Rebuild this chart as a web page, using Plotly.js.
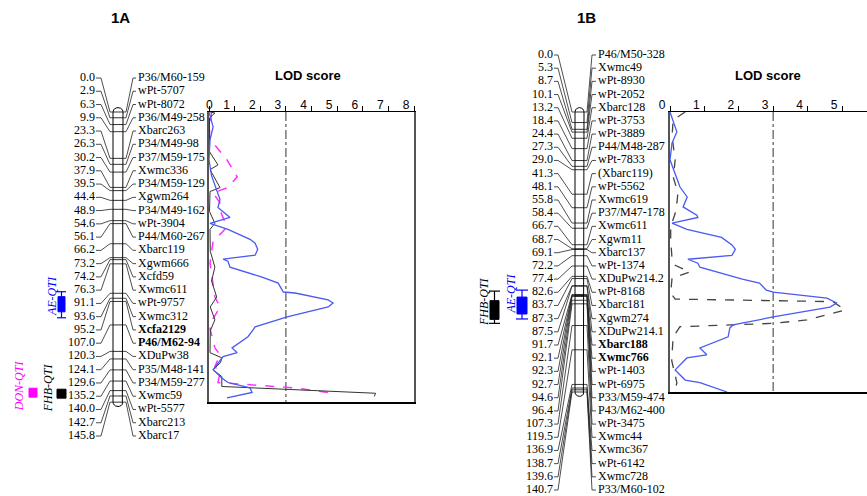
<!DOCTYPE html>
<html>
<head>
<meta charset="utf-8">
<script src="https://cdn.plot.ly/plotly-3.0.1.min.js"></script>
<style>html,body{margin:0;padding:0;background:#fff;}#chart{width:867px;height:496px;}</style>
</head>
<body>
<div id="chart"></div>
<script>
// ---------------- DATA ----------------
const CM_A = [0.0,2.9,6.3,9.9,23.3,26.3,30.2,37.9,39.5,44.4,48.9,54.6,56.1,66.2,73.2,74.2,76.3,91.1,93.6,95.2,107.0,120.3,124.1,129.6,135.2,140.0,142.7,145.8];
const MARKERS_A = ['P36/M60-159','wPt-5707','wPt-8072','P36/M49-258','Xbarc263','P34/M49-98','P37/M59-175','Xwmc336','P34/M59-129','Xgwm264','P34/M49-162','wPt-3904','P44/M60-267','Xbarc119','Xgwm666','Xcfd59','Xwmc611','wPt-9757','Xwmc312','Xcfa2129','P46/M62-94','XDuPw38','P35/M48-141','P34/M59-277','Xwmc59','wPt-5577','Xbarc213','Xbarc17'];
const BOLD_A = ['Xcfa2129','P46/M62-94'];

const CM_B = [0.0,5.3,8.7,10.1,13.2,18.4,24.4,27.3,29.0,41.3,48.1,55.8,58.4,66.7,68.7,69.1,72.2,77.4,82.6,83.7,87.3,87.5,91.7,92.1,92.3,92.7,94.6,96.4,107.3,119.5,136.9,138.7,139.6,140.7];
const MARKERS_B = ['P46/M50-328','Xwmc49','wPt-8930','wPt-2052','Xbarc128','wPt-3753','wPt-3889','P44/M48-287','wPt-7833','(Xbarc119)','wPt-5562','Xwmc619','P37/M47-178','Xwmc611','Xgwm11','Xbarc137','wPt-1374','XDuPw214.2','wPt-8168','Xbarc181','Xgwm274','XDuPw214.1','Xbarc188','Xwmc766','wPt-1403','wPt-6975','P33/M59-474','P43/M62-400','wPt-3475','Xwmc44','Xwmc367','wPt-6142','Xwmc728','P33/M60-102'];
const BOLD_B = ['Xbarc188','Xwmc766'];

// LOD profiles, chromosome 1A
const AE_A_CM  = [0,7.5,14,24,32,40.7,44,48,52,53,56,59,64,66,69,72,74,75,78,83,86,90.5,91,94.5,96,98,103,108,109.5,113,118.6,121,123,129.6,133.7,136,138.7,141,143.7];
const AE_A_LOD = [0,0.16,0.04,0,0.1,0.35,0.43,0.35,0.74,0.82,0.04,0.74,1.6,1.8,1.9,1.8,0.55,0.74,0.82,2.07,2.7,2.9,3.36,4.65,4.84,4.65,3.05,1.8,1.72,1.52,0.9,1.1,0.55,0.16,0.5,0.74,1.6,1.68,0.7];
const FHB_A_CM  = [0,0.5,3,20,26.6,29,38,40,50,56,59,70,78,85,93,98,104.5,110,121,123.6,126,129.6,133,138,141.4,143];
const FHB_A_LOD = [0.05,0.23,0.02,0.02,0.35,0.04,0.43,0.04,0.02,0.23,0.04,0.05,0.23,0.1,0.3,0.05,0.23,0.05,0.04,0.5,0.45,0.16,0.5,0.5,6.5,6.45];
const DON_A_CM  = [0,10,14,16.6,24,32.6,38,40.7,45.7,50,57.8,60,65,76,93,98,104,109,118.6,122,128,131,136,138.7,141,143];
const DON_A_LOD = [0.1,0.02,0.02,0.23,0.7,1.1,0.74,0.16,0.43,0.45,0.7,0.55,0.16,0.04,0.23,0.43,0.16,0.04,0.23,0.43,0.23,0.43,0.35,3.36,4.65,4.5];

// LOD profiles, chromosome 1B
const AE_B_CM  = [0,7.5,10,15.5,24,37.7,42.7,47.7,51.8,53,55.8,59,63,66.8,69,72,74,76,78,84,86,89.5,90.5,93.5,96,98,103,107,108.5,113,118.6,122,123.6,129.6,134.7,136,140.7];
const AE_B_LOD = [0,0.15,0.2,0.06,0,0.29,0.5,0.38,0.78,0.81,0.06,0.49,1.5,1.8,1.9,1.8,0.52,0.81,0.87,2.1,2.6,2.8,3.0,4.56,4.85,4.65,3.0,1.83,1.74,1.69,0.87,1.07,0.49,0.15,0.44,0.87,1.66];
const FHB_B_CM  = [0,4,12.5,24,33,40.7,45.7,51,57.5,64,74,77,80.4,83.4,91,94,95.3,99.5,104.5,106.2,107.9,113,125,136,139.7];
const FHB_B_LOD = [0.44,0.09,0.06,0.15,0.1,0.23,0.2,0.15,0.02,0.02,0.06,0.15,0.58,0.06,0.02,0.15,4.74,5.09,3.98,3.0,0.29,0.09,0.05,0.2,0.15];

const LOD_THRESHOLD = 3.0;
const LOD_TICKS_A = [0,1,2,3,4,5,6,7,8];
const LOD_TICKS_B = [0,1,2,3,4,5,6];

// QTL intervals (cM)
const QTL_A_NAMES = ['AE-QTI','DON-QTI','FHB-QTI'];
const QTL_A_BOX = [[92.8,100.4],[138.8,143.3],[139.3,143.8]];
const QTL_A_WHISKER = [[90.3,103.4],null,null];
const QTL_B_NAMES = ['FHB-QTI','AE-QTI'];
const QTL_B_BOX = [[94.8,104.2],[93.0,101.5]];
const QTL_B_WHISKER = [[90.0,106.2],[89.5,104.0]];

// ---------------- LAYOUT GEOMETRY ----------------
const W = 867, H = 496;
const PX_PER_CM = 1.99, MAP_TOP_PX = 112;
const toCmUnits = px => (px - MAP_TOP_PX) / PX_PER_CM; // layout px -> overlay axis units
const SERIF = 'Liberation Serif, Times New Roman, serif';
const SANS = 'Liberation Sans, Arial, sans-serif';
const BLUE_LINE = '#4a5af2', MAGENTA = '#ff33ff', QBLUE = '#0000ff', QMAG = '#ff00ff';

const PANEL_A = {num:95, cl:[96,101,110], chrom:[113,123], cr:[126,133,136], name:138, lt:78, lb:436,
  qtlX:[[58,65],[29,37],[57,66]], qtlColor:[QBLUE,QMAG,'#000'], qtlTextX:[52,19,48], qtlTextY:[92.5,137.8,138.8]};
const PANEL_B = {num:553, cl:[554,558,572], chrom:[575,584], cr:[587,592,596], name:598, lt:55, lb:490,
  qtlX:[[490,499],[517,527]], qtlColor:['#000',QBLUE], qtlTextX:[484,511.5], qtlTextY:[95.5,91.5]};

const traces = [];
const annotations = [];

function mapPanel(cm, markers, bold, P, qNames, qBox, qWhisk) {
  const n = cm.length;
  const step = (toCmUnits(P.lb) - toCmUnits(P.lt)) / (n - 1);
  const labY = cm.map((_, i) => toCmUnits(P.lt) + i * step);
  const [x0, x1] = P.chrom;
  const top = cm[0], bot = cm[n - 1];
  const r = (x1 - x0) / 2, cx = (x0 + x1) / 2, rc = 2.2;
  const ox = [], oy = [];
  for (let a = 180; a >= 0; a -= 15) { ox.push(cx + r * Math.cos(a * Math.PI / 180)); oy.push(top - rc * Math.sin(a * Math.PI / 180)); }
  for (let a = 0; a <= 180; a += 15) { ox.push(cx + r * Math.cos(a * Math.PI / 180)); oy.push(bot + rc * Math.sin(a * Math.PI / 180)); }
  ox.push(ox[0]); oy.push(oy[0]);
  traces.push({x: ox, y: oy, mode: 'lines', fill: 'toself', fillcolor: '#fff', line: {color: '#000', width: 1}, xaxis: 'x', yaxis: 'y', hoverinfo: 'skip'});
  const bx = [], by = [], lx = [], ly = [], rx = [], ry = [];
  cm.forEach((v, i) => {
    bx.push(x0, x1, null); by.push(v, v, null);
    lx.push(P.cl[0], P.cl[1], P.cl[2], x0, null); ly.push(labY[i], labY[i], v, v, null);
    rx.push(x1, P.cr[0], P.cr[1], P.cr[2], null); ry.push(v, v, labY[i], labY[i], null);
  });
  traces.push({x: bx, y: by, mode: 'lines', line: {color: '#000', width: 0.8}, xaxis: 'x', yaxis: 'y', hoverinfo: 'skip'});
  traces.push({x: lx, y: ly, mode: 'lines', line: {color: '#222', width: 0.8}, xaxis: 'x', yaxis: 'y', hoverinfo: 'skip'});
  traces.push({x: rx, y: ry, mode: 'lines', line: {color: '#222', width: 0.8}, xaxis: 'x', yaxis: 'y', hoverinfo: 'skip'});
  traces.push({x: cm.map(() => P.num), y: labY, mode: 'text', text: cm.map(v => v.toFixed(1)), textposition: 'middle left',
    textfont: {family: SERIF, size: 12, color: '#000'}, cliponaxis: false, xaxis: 'x', yaxis: 'y', hoverinfo: 'skip'});
  traces.push({x: cm.map(() => P.name), y: labY, mode: 'text', text: markers.map(m => bold.includes(m) ? '<b>' + m + '</b>' : m), textposition: 'middle right',
    textfont: {family: SERIF, size: 12, color: '#000'}, cliponaxis: false, xaxis: 'x', yaxis: 'y', hoverinfo: 'skip'});
  qNames.forEach((name, i) => {
    const [qa, qb] = P.qtlX[i], c = P.qtlColor[i], [b0, b1] = qBox[i];
    traces.push({x: [qa, qb, qb, qa, qa], y: [b0, b0, b1, b1, b0], mode: 'lines', fill: 'toself', fillcolor: c,
      line: {color: c, width: 1}, xaxis: 'x', yaxis: 'y', hoverinfo: 'skip'});
    if (qWhisk[i]) {
      const [w0, w1] = qWhisk[i], mid = (qa + qb) / 2;
      traces.push({x: [mid, mid, null, mid, mid, null, qa - 1, qb + 1, null, qa - 1, qb + 1],
        y: [w0, b0, null, b1, w1, null, w0, w0, null, w1, w1], mode: 'lines', line: {color: c, width: 1.2},
        xaxis: 'x', yaxis: 'y', hoverinfo: 'skip'});
    }
    annotations.push({x: P.qtlTextX[i], y: P.qtlTextY[i], xref: 'x', yref: 'y', text: '<i>' + name + '</i>', showarrow: false,
      textangle: -90, font: {family: SERIF, size: 12, color: c}, xanchor: 'center', yanchor: 'middle'});
  });
}

mapPanel(CM_A, MARKERS_A, BOLD_A, PANEL_A, QTL_A_NAMES, QTL_A_BOX, QTL_A_WHISKER);
mapPanel(CM_B, MARKERS_B, BOLD_B, PANEL_B, QTL_B_NAMES, QTL_B_BOX, QTL_B_WHISKER);

const maxA = CM_A[CM_A.length - 1], maxB = CM_B[CM_B.length - 1];
traces.push({x: [LOD_THRESHOLD, LOD_THRESHOLD], y: [0, maxA], mode: 'lines', line: {color: '#777', width: 1.5, dash: 'dashdot'}, xaxis: 'x2', yaxis: 'y2', hoverinfo: 'skip'});
traces.push({x: DON_A_LOD, y: DON_A_CM, mode: 'lines', line: {color: MAGENTA, width: 1.5, dash: 'dash'}, xaxis: 'x2', yaxis: 'y2', hoverinfo: 'skip'});
traces.push({x: FHB_A_LOD, y: FHB_A_CM, mode: 'lines', line: {color: '#333', width: 1}, xaxis: 'x2', yaxis: 'y2', hoverinfo: 'skip'});
traces.push({x: AE_A_LOD, y: AE_A_CM, mode: 'lines', line: {color: BLUE_LINE, width: 1.3}, xaxis: 'x2', yaxis: 'y2', hoverinfo: 'skip'});

traces.push({x: [LOD_THRESHOLD, LOD_THRESHOLD], y: [0, maxB], mode: 'lines', line: {color: '#777', width: 1.5, dash: 'dashdot'}, xaxis: 'x3', yaxis: 'y3', hoverinfo: 'skip'});
traces.push({x: FHB_B_LOD, y: FHB_B_CM, mode: 'lines', line: {color: '#444', width: 1.3, dash: 'dash'}, xaxis: 'x3', yaxis: 'y3', hoverinfo: 'skip'});
traces.push({x: AE_B_LOD, y: AE_B_CM, mode: 'lines', line: {color: BLUE_LINE, width: 1.3}, xaxis: 'x3', yaxis: 'y3', hoverinfo: 'skip'});

const paperAnn = (xpx, ypx, text, size) => ({x: xpx / W, y: 1 - ypx / H, xref: 'paper', yref: 'paper', xanchor: 'center', yanchor: 'middle',
  text: text, showarrow: false, font: {family: SANS, size: size, color: '#000'}});
annotations.push(paperAnn(120, 18, '<b>1A</b>', 15));
annotations.push(paperAnn(586, 18, '<b>1B</b>', 15));
annotations.push(paperAnn(308, 76, '<b>LOD score</b>', 13));
annotations.push(paperAnn(768, 76, '<b>LOD score</b>', 13));

// in panel A the "0" label sits right at the axis start (padded with non-breaking spaces to offset the shared label shift)
const tickTextA = LOD_TICKS_A.map((t, i) => i === 0 ? '\u00a0'.repeat(5) + t : String(t));
const tickTextB = LOD_TICKS_B.map(String);

const lodX = (dom, range, ticks, ttext, anchor) => ({domain: dom, range: range, side: 'top', anchor: anchor, showline: true, mirror: true,
  linecolor: '#000', linewidth: 1.5, ticks: 'outside', ticklen: 5, tickwidth: 1, tickcolor: '#000', tickvals: ticks,
  ticktext: ttext, ticklabelshift: -8, ticklabelstandoff: -8, tickfont: {family: SANS, size: 12, color: '#000'},
  showgrid: false, zeroline: false, fixedrange: true});
const lodY = (dom, range, mirror, anchor) => ({domain: dom, range: range, anchor: anchor, showline: true, mirror: mirror, linecolor: '#555', linewidth: 2,
  showticklabels: false, ticks: '', showgrid: false, zeroline: false, fixedrange: true});

const layout = {
  width: W, height: H, margin: {l: 0, r: 0, t: 0, b: 0}, paper_bgcolor: '#fff', plot_bgcolor: 'rgba(0,0,0,0)', showlegend: false,
  xaxis: {domain: [0, 1], range: [0, W], visible: false, fixedrange: true},
  yaxis: {domain: [0, 1], range: [toCmUnits(H), toCmUnits(0)], visible: false, fixedrange: true},
  xaxis2: lodX([209 / W, 414 / W], [0, 8], LOD_TICKS_A, tickTextA, 'y2'),
  yaxis2: lodY([1 - 402 / H, 1 - 112 / H], [maxA, 0], true, 'x2'),
  xaxis3: lodX([670 / W, 1], [0, 197 / 34.4], LOD_TICKS_B, tickTextB, 'y3'),
  yaxis3: lodY([1 - 392 / H, 1 - 112 / H], [maxB, 0], false, 'x3'),
  annotations: annotations,
  hovermode: false
};
Plotly.newPlot('chart', traces, layout, {displayModeBar: false, staticPlot: true});
</script>
</body>
</html>
